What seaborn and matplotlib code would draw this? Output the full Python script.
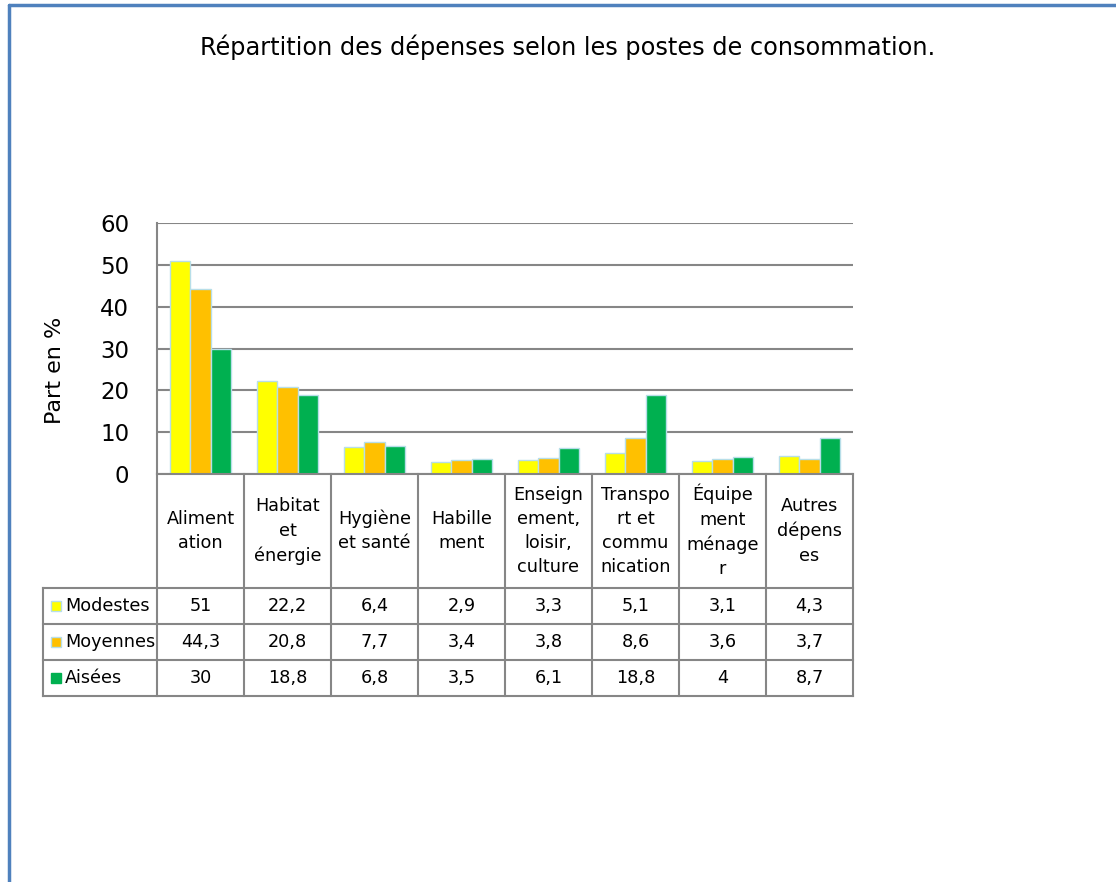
import pandas as pd
import matplotlib.pyplot as plt
import seaborn as sns
from matplotlib.patches import Rectangle
from matplotlib.lines import Line2D

# Data
postes = ['Alimentation', 'Habitat et énergie', 'Hygiène et santé', 'Habillement',
          'Enseignement, loisir, culture', 'Transport et communication',
          'Équipement ménager', 'Autres dépenses']
header_labels = ['Aliment\nation', 'Habitat\net\nénergie', 'Hygiène\net santé', 'Habille\nment',
                 'Enseign\nement,\nloisir,\nculture', 'Transpo\nrt et\ncommu\nnication',
                 'Équipe\nment\nménage\nr', 'Autres\ndépens\nes']
groupes = ['Modestes', 'Moyennes', 'Aisées']
modestes = [51, 22.2, 6.4, 2.9, 3.3, 5.1, 3.1, 4.3]
moyennes = [44.3, 20.8, 7.7, 3.4, 3.8, 8.6, 3.6, 3.7]
aisees = [30, 18.8, 6.8, 3.5, 6.1, 18.8, 4, 8.7]
colors = ['#FFFF00', '#FFC000', '#00B050']
y_ticks = [0, 10, 20, 30, 40, 50, 60]

# Long-form table for seaborn
rows = []
for g, vals in zip(groupes, [modestes, moyennes, aisees]):
    for p, v in zip(postes, vals):
        rows.append({'poste': p, 'groupe': g, 'part': v})
data = pd.DataFrame(rows)

sns.set_style('white')
plt.rcParams['font.family'] = ['DejaVu Sans']
plt.rcParams['text.color'] = 'black'
plt.rcParams['axes.labelcolor'] = 'black'
plt.rcParams['ytick.color'] = 'black'

W, H = 1116, 882
fig = plt.figure(figsize=(W / 100, H / 100), dpi=100)
# axes box in pixels: left 157, right 853, top 223, bottom 474
AX_W, AX_H = 696, 251
ax = fig.add_axes([157 / W, 1 - 474 / H, AX_W / W, AX_H / H])

sns.barplot(data=data, x='poste', y='part', hue='groupe', palette=colors, saturation=1,
            width=0.69, edgecolor='#B7DEE8', linewidth=1.0, legend=False, ax=ax)

n = len(postes)
ax.set_xlim(-0.5, n - 0.5)
ax.set_ylim(0, 60)
ax.set_yticks(y_ticks)
ax.set_xticks(range(n))
ax.set_xticklabels([])
ax.set_xlabel('')
ax.set_ylabel('Part en %', fontsize=16)
ax.yaxis.set_label_coords(-0.132, 0.414)
ax.tick_params(axis='y', length=0, pad=20, labelsize=16.5, labelcolor='black')
ax.tick_params(axis='x', length=0)
ax.grid(axis='y', color='#868686', linewidth=1.5)
ax.set_axisbelow(True)
for s in ['top', 'right']:
    ax.spines[s].set_visible(False)
for s in ['left', 'bottom']:
    ax.spines[s].set_color('#868686')
    ax.spines[s].set_linewidth(1.5)


def fmt(v):
    return '{:g}'.format(v).replace('.', ',')


# data table under the axes: x in category units, y in axes fraction
tr = ax.get_xaxis_transform()
col_px = AX_W / n
head_h = 114 / AX_H
row_h = 36 / AX_H
x_left = -0.5 - 114 / col_px
y_head = -head_h
y_rows = [y_head - row_h * k for k in range(len(groupes) + 1)]
line_kw = dict(color='#868686', linewidth=1.5, transform=tr, clip_on=False,
               solid_capstyle='projecting')

for k in range(n + 1):
    ax.plot([k - 0.5, k - 0.5], [0, y_rows[-1]], **line_kw)
ax.plot([x_left, x_left], [y_head, y_rows[-1]], **line_kw)
for y in y_rows:
    ax.plot([x_left, n - 0.5], [y, y], **line_kw)

for j, lab in enumerate(header_labels):
    ax.text(j, y_head / 2, lab, transform=tr, ha='center', va='center',
            fontsize=12.7, linespacing=1.45)

for i, (g, vals, col) in enumerate(zip(groupes, [modestes, moyennes, aisees], colors)):
    yc = (y_rows[i] + y_rows[i + 1]) / 2
    for j, v in enumerate(vals):
        ax.text(j, yc, fmt(v), transform=tr, ha='center', va='center', fontsize=12.7)
    ax.text(x_left + 22 / col_px, yc, g, transform=tr, ha='left', va='center', fontsize=12.7)
    ax.add_patch(Rectangle((x_left + 8 / col_px, yc - 5 / AX_H), 10 / col_px, 10 / AX_H,
                           transform=tr, clip_on=False, facecolor=col,
                           edgecolor='#B7DEE8' if i < 2 else col, linewidth=1.0))

fig.text(568 / W, 1 - 47 / H, 'Répartition des dépenses selon les postes de consommation.',
         ha='center', va='center', fontsize=17.3)

# chart frame (top and left edges)
fig.add_artist(Line2D([9 / W, 1], [1 - 5 / H, 1 - 5 / H], transform=fig.transFigure,
                      color='#4F81BD', linewidth=2.5))
fig.add_artist(Line2D([9 / W, 9 / W], [0, 1 - 5 / H], transform=fig.transFigure,
                      color='#4F81BD', linewidth=2.5))

fig.savefig('out.png', dpi=100)
